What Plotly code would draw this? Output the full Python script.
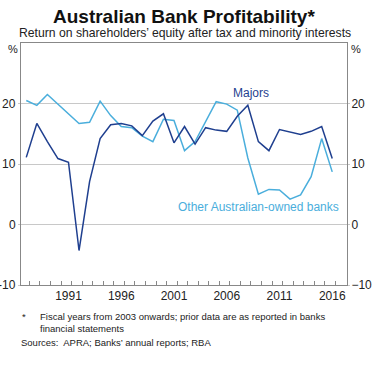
import plotly.graph_objects as go

years = list(range(1987, 2017))
majors = [11.1, 16.7, 13.7, 10.9, 10.3, -4.3, 7.1, 14.2, 16.5, 16.7,
          16.3, 14.7, 17.1, 18.3, 13.5, 16.2, 13.3, 16.0, 15.6, 15.4,
          17.9, 19.7, 13.7, 12.2, 15.7, 15.3, 14.9, 15.4, 16.2, 10.9]
others = [20.5, 19.7, 21.5, 19.9, 18.3, 16.7, 16.9, 20.4, 18.0, 16.2,
          16.0, 14.6, 13.7, 17.4, 17.2, 12.2, 13.7, 17.1, 20.3, 19.9,
          18.9, 11.0, 5.0, 5.8, 5.7, 4.2, 4.9, 7.9, 14.2, 8.7]
xtick_years = [1991, 1996, 2001, 2006, 2011, 2016]
ytick_vals = [-10, 0, 10, 20]

DARK = "#1f3f8f"
LIGHT = "#4aaedc"
FONT = "Liberation Sans, Arial, sans-serif"

W, H = 391, 365
L, R, T, B = 21, 347, 43, 285


def px(x):
    return (x - L) / (R - L)


def py(y):
    return (B - y) / (B - T)


fig = go.Figure()
fig.add_trace(go.Scatter(x=years, y=others, mode="lines",
                         line=dict(color=LIGHT, width=1.5), showlegend=False))
fig.add_trace(go.Scatter(x=years, y=majors, mode="lines",
                         line=dict(color=DARK, width=1.5), showlegend=False))
fig.add_trace(go.Scatter(x=[years[0]], y=[majors[0]], yaxis="y2", mode="markers",
                         marker=dict(opacity=0), showlegend=False, hoverinfo="skip"))

fig.update_layout(
    width=W, height=H,
    margin=dict(l=L, r=W - R, t=T, b=H - B),
    paper_bgcolor="white", plot_bgcolor="white",
    font=dict(family=FONT, size=12, color="#222"),
    xaxis=dict(range=[1986.5, 2017.4], tickvals=xtick_years,
               ticktext=[str(y) for y in xtick_years], ticks="",
               showgrid=False, zeroline=False, automargin=False,
               showline=True, linecolor="#888", linewidth=1, mirror=True,
               tickfont=dict(size=12, color="#222"),
               minor=dict(tickmode="array", tickvals=[y + 0.3 for y in years],
                          ticks="inside", ticklen=4, tickcolor="#888", showgrid=False)),
    yaxis=dict(range=[-10, 30], tickvals=ytick_vals, showgrid=True,
               gridcolor="#c8c8c8", gridwidth=1, zeroline=False, automargin=False,
               showline=True, linecolor="#888", linewidth=1, mirror=True,
               ticks="outside", ticklen=2, tickcolor="#c8c8c8", showticklabels=False),
    yaxis2=dict(range=[-10, 30], tickvals=ytick_vals, overlaying="y", side="right",
                showgrid=False, zeroline=False, showline=False, automargin=False,
                ticks="outside", ticklen=2, tickcolor="#c8c8c8", ticklabelstandoff=-1,
                tickfont=dict(size=12, color="#222")),
)

# left-hand tick labels, right-aligned just left of the axis
for v in ytick_vals:
    fig.add_annotation(text=str(v), x=px(18), y=v, xref="paper", yref="y",
                       showarrow=False, font=dict(size=12, color="#222"),
                       xanchor="right", yanchor="middle", xshift=0)


def note(text, x, y, size, xanchor="center", yanchor="middle", color="#222", align="center"):
    fig.add_annotation(text=text, x=px(x), y=py(y), xref="paper", yref="paper",
                       showarrow=False, font=dict(size=size, color=color),
                       xanchor=xanchor, yanchor=yanchor, align=align)


note("<b>Australian Bank Profitability*</b>", 184, 16, 19, color="#111")
note("Return on shareholders’ equity after tax and minority interests", 184.5, 33, 12.2)
note("%", 13, 49, 11)
note("%", 356, 49, 11)
note("*", 20, 316, 9.5, xanchor="left")
note("Fiscal years from 2003 onwards; prior data are as reported in banks<br>financial statements",
     38, 309, 9.5, xanchor="left", yanchor="top", align="left")
note("Sources:  APRA; Banks’ annual reports; RBA", 19, 342, 9.5, xanchor="left")

fig.add_annotation(text="Majors", x=2008.3, y=21.7, xref="x", yref="y", showarrow=False,
                   font=dict(size=12, color=DARK), xanchor="center", yanchor="middle")
fig.add_annotation(text="Other Australian-owned banks", x=2009.0, y=2.9, xref="x", yref="y",
                   showarrow=False, font=dict(size=12, color=LIGHT), xanchor="center", yanchor="middle")

fig.write_html("out.html", config={"displayModeBar": False},
               post_script="document.body.style.margin='0';")
